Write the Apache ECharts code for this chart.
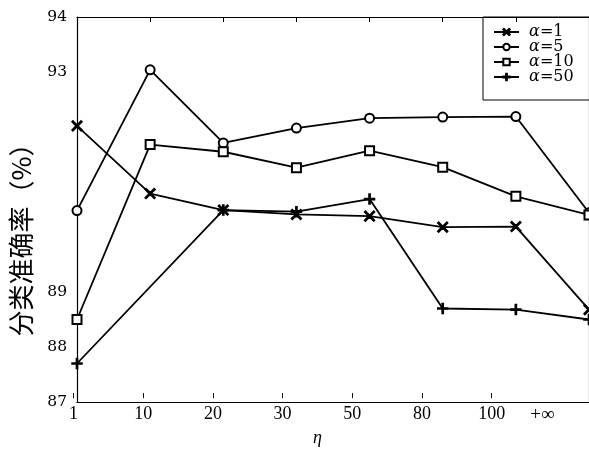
<!DOCTYPE html>
<html><head><meta charset="utf-8">
<script src="https://cdn.jsdelivr.net/npm/echarts@6/dist/echarts.min.js"></script>
<style>html,body{margin:0;padding:0;background:#fff}#c{width:589px;height:452px}</style>
</head><body><div id="c"></div>
<script>
const categories = ['1','10','20','30','50','80','100','+∞'];
const seriesNames = ['α=1','α=5','α=10','α=50'];
const alpha1 = [92.02, 90.79, 90.49, 90.41, 90.38, 90.18, 90.19, 88.68];
const alpha5 = [90.48, 93.04, 91.71, 91.98, 92.16, 92.18, 92.19, 90.44];
const alpha10 = [88.50, 91.68, 91.55, 91.26, 91.57, 91.27, 90.74, 90.40];
const alpha50 = [87.70, null, 90.49, 90.46, 90.69, 88.70, 88.68, 88.50];
const yLabelsShown = [87, 88, 89, 93, 94];

const SERIF = 'Liberation Serif';
const crossPath = 'path://M0,0.9 L0.9,0 L5,4.1 L9.1,0 L10,0.9 L5.9,5 L10,9.1 L9.1,10 L5,5.9 L0.9,10 L0,9.1 L4.1,5 Z';
const plusPath = 'path://M4.4,0 H5.6 V4.4 H10 V5.6 H5.6 V10 H4.4 V5.6 H0 V4.4 H4.4 Z';

function mk(name, data, symbol, size) {
  return {
    name, type: 'line', data, xAxisIndex: 0, yAxisIndex: 0,
    symbol, symbolSize: size, connectNulls: true, clip: false,
    lineStyle: {color: '#000', width: 1.8},
    itemStyle: {color: '#000', borderColor: '#000', borderWidth: 1.5},
    emphasis: {disabled: true}
  };
}

const chart = echarts.init(document.getElementById('c'), null, {renderer: 'canvas'});
chart.setOption({
  animation: false,
  backgroundColor: '#fff',
  grid: [
    {left: 74, right: -1, top: 17, bottom: 50},
    {left: 73.5, width: 487.9, top: 17, bottom: 50}
  ],
  legend: {
    left: 483, top: 17, orient: 'vertical',
    data: seriesNames,
    itemWidth: 25, itemHeight: 8, itemGap: -1,
    padding: [7, 30, 15, 10],
    borderColor: '#000', borderWidth: 1,
    formatter: n => ' {a|α}' + n.slice(1),
    textStyle: {
      fontFamily: 'DejaVu Serif', fontSize: 16, color: '#000',
      rich: {a: {fontFamily: 'DejaVu Serif', fontSize: 16, fontStyle: 'italic'}}
    }
  },
  xAxis: [
    {gridIndex: 0, type: 'category', position: 'bottom', data: categories, boundaryGap: false,
      axisLine: {lineStyle: {color: '#000', width: 1.2}}, axisTick: {show: false}, axisLabel: {show: false}},
    {gridIndex: 0, type: 'category', position: 'top', data: categories, boundaryGap: false,
      axisLine: {lineStyle: {color: '#000', width: 1.2}},
      axisTick: {inside: true, length: 5, interval: 0, lineStyle: {color: '#000'}}, axisLabel: {show: false}},
    {gridIndex: 1, type: 'category', position: 'bottom', data: categories, boundaryGap: false,
      axisLine: {show: false},
      axisTick: {inside: true, length: 5, lineStyle: {color: '#000'}, interval: (i) => i < categories.length - 1},
      axisLabel: {
        interval: 0,
        fontFamily: SERIF, fontSize: 18, color: '#000', margin: 7,
        formatter: (v) => v === '+∞' ? '{inf|+∞}' : v,
        rich: {inf: {fontFamily: SERIF, fontSize: 19, color: '#000', padding: [0, 38, 0, 0]}}
      },
      name: 'η', nameLocation: 'middle', nameGap: 28,
      nameTextStyle: {fontFamily: SERIF, fontSize: 18, fontStyle: 'italic', color: '#000'}}
  ],
  yAxis: [
    {gridIndex: 0, type: 'value', position: 'left', min: 87, max: 94, interval: 1,
      axisLine: {show: true, lineStyle: {color: '#000', width: 1.2}},
      axisTick: {inside: true, length: 5, lineStyle: {color: '#000'}},
      splitLine: {show: false},
      axisLabel: {fontFamily: 'DejaVu Serif', fontSize: 15.5, color: '#000', margin: 10,
        formatter: (v) => yLabelsShown.indexOf(v) >= 0 ? String(v) : ''},
      name: '分类准确率（%）', nameLocation: 'middle', nameGap: 43,
      nameTextStyle: {fontFamily: 'Noto Sans CJK SC', fontSize: 26, color: '#000', padding: [0, 48, 0, 0]}},
    {gridIndex: 0, type: 'value', position: 'right', min: 87, max: 94, interval: 1,
      axisLine: {show: true, lineStyle: {color: '#000', width: 1.2}},
      axisTick: {inside: true, length: 5, lineStyle: {color: '#000'}},
      splitLine: {show: false}, axisLabel: {show: false}},
    {gridIndex: 1, type: 'value', min: 87, max: 94, show: false}
  ],
  series: [
    mk(seriesNames[0], alpha1, crossPath, 10),
    mk(seriesNames[1], alpha5, 'emptyCircle', 9),
    mk(seriesNames[2], alpha10, 'emptyRect', 9),
    mk(seriesNames[3], alpha50, plusPath, 10)
  ]
});
</script></body></html>
